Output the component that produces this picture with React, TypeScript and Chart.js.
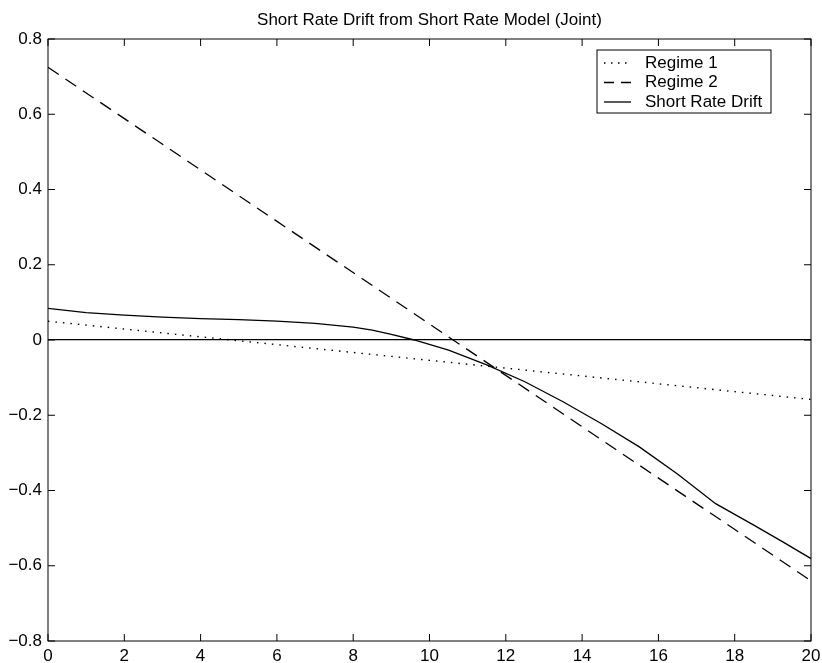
import React, { useEffect, useRef } from "react";
import { Chart, registerables } from "chart.js";

Chart.register(...registerables);

const TITLE = "Short Rate Drift from Short Rate Model (Joint)";
const SERIES_LABELS = ["Regime 1", "Regime 2", "Short Rate Drift"];

const regime1X = [0, 20];
const regime1Y = [0.05, -0.158];

const regime2X = [0, 20];
const regime2Y = [0.725, -0.64];

const driftX = [0, 1, 2, 3, 4, 5, 6, 7, 8, 8.5, 9, 9.6, 10.5, 11.5, 12.5, 13.5, 14.5, 15.5, 16.5, 17.5, 18.5, 19.25, 20];
const driftY = [0.084, 0.073, 0.066, 0.061, 0.057, 0.054, 0.05, 0.044, 0.034, 0.026, 0.015, 0.0, -0.027, -0.066, -0.111, -0.164, -0.222, -0.284, -0.356, -0.435, -0.492, -0.536, -0.581];

const X_MIN = 0;
const X_MAX = 20;
const X_STEP = 2;
const Y_MIN = -0.8;
const Y_MAX = 0.8;
const Y_STEP = 0.2;

const FONT = "Liberation Sans, Arial, Helvetica, sans-serif";

const toPoints = (xs: number[], ys: number[]) => xs.map((x, i) => ({ x, y: ys[i] }));

const fmtY = (v: number) => {
  if (Math.abs(v) < 1e-9) return "0";
  return (v < 0 ? "\u2212" : "") + Math.abs(v).toFixed(1);
};

const framePlugin = {
  id: "matlabFrame",
  afterDatasetsDraw(chart: any) {
    const { ctx, chartArea: a, scales } = chart;
    const len = 7;
    ctx.save();
    ctx.strokeStyle = "#000";
    ctx.lineWidth = 1;
    ctx.strokeRect(a.left, a.top, a.right - a.left, a.bottom - a.top);
    ctx.beginPath();
    scales.x.ticks.forEach((t: any) => {
      const px = scales.x.getPixelForValue(t.value);
      ctx.moveTo(px, a.bottom);
      ctx.lineTo(px, a.bottom - len);
      ctx.moveTo(px, a.top);
      ctx.lineTo(px, a.top + len);
    });
    scales.y.ticks.forEach((t: any) => {
      const py = scales.y.getPixelForValue(t.value);
      ctx.moveTo(a.left, py);
      ctx.lineTo(a.left + len, py);
      ctx.moveTo(a.right, py);
      ctx.lineTo(a.right - len, py);
    });
    ctx.stroke();

    // title
    ctx.fillStyle = "#000";
    ctx.font = `17px ${FONT}`;
    ctx.textAlign = "center";
    ctx.textBaseline = "alphabetic";
    ctx.fillText(TITLE, (a.left + a.right) / 2, 25);

    // legend
    const bx = 597, by = 50, bw = 174, bh = 63;
    ctx.fillStyle = "#fff";
    ctx.fillRect(bx, by, bw, bh);
    ctx.strokeStyle = "#000";
    ctx.lineWidth = 1;
    ctx.setLineDash([]);
    ctx.strokeRect(bx, by, bw, bh);
    const rows = [63, 82.5, 102];
    chart.data.datasets.forEach((ds: any, i: number) => {
      const y = rows[i];
      ctx.beginPath();
      ctx.setLineDash(ds.legendDash || []);
      ctx.lineWidth = ds.borderWidth;
      ctx.strokeStyle = ds.borderColor;
      ctx.moveTo(604, y);
      ctx.lineTo(631, y);
      ctx.stroke();
      ctx.setLineDash([]);
      ctx.fillStyle = "#000";
      ctx.font = `17px ${FONT}`;
      ctx.textAlign = "left";
      ctx.textBaseline = "middle";
      ctx.fillText(ds.label, 645, y);
    });
    ctx.restore();
  },
};

export default function App() {
  const ref = useRef<HTMLCanvasElement | null>(null);

  useEffect(() => {
    if (!ref.current) return;
    const chart = new Chart(ref.current, {
      type: "line",
      data: {
        datasets: [
          {
            label: SERIES_LABELS[0],
            data: toPoints(regime1X, regime1Y),
            borderColor: "#000",
            borderWidth: 1.4,
            borderDash: [1.5, 6],
            legendDash: [1.5, 5.5],
            pointRadius: 0,
            tension: 0,
          } as any,
          {
            label: SERIES_LABELS[1],
            data: toPoints(regime2X, regime2Y),
            borderColor: "#000",
            borderWidth: 1.3,
            borderDash: [13, 8],
            legendDash: [10, 7],
            pointRadius: 0,
            tension: 0,
          } as any,
          {
            label: SERIES_LABELS[2],
            data: toPoints(driftX, driftY),
            borderColor: "#000",
            borderWidth: 1.3,
            legendDash: [],
            pointRadius: 0,
            tension: 0,
          } as any,
        ],
      },
      options: {
        responsive: false,
        animation: false,
        events: [],
        layout: { padding: { top: 39, right: 11, left: 0, bottom: 0 } },
        plugins: {
          legend: { display: false },
          title: { display: false },
          tooltip: { enabled: false },
        },
        scales: {
          x: {
            type: "linear",
            min: X_MIN,
            max: X_MAX,
            afterFit: (s: any) => {
              s.height = 22;
              s.paddingLeft = 0;
              s.paddingRight = 0;
            },
            ticks: {
              stepSize: X_STEP,
              color: "#000",
              padding: 5,
              maxRotation: 0,
              font: { family: FONT, size: 17 },
              callback: (v: any) => String(v),
            },
            grid: { drawOnChartArea: false, drawTicks: false },
            border: { display: false },
          },
          y: {
            type: "linear",
            min: Y_MIN,
            max: Y_MAX,
            afterFit: (s: any) => {
              s.width = 48;
              s.paddingTop = 0;
              s.paddingBottom = 0;
            },
            ticks: {
              stepSize: Y_STEP,
              color: "#000",
              padding: 6,
              font: { family: FONT, size: 17 },
              callback: (v: any) => fmtY(Number(v)),
            },
            grid: {
              drawTicks: false,
              lineWidth: 1.3,
              color: (c: any) => (c.tick && Math.abs(c.tick.value) < 1e-9 ? "#000" : "rgba(0,0,0,0)"),
            },
            border: { display: false },
          },
        },
      } as any,
      plugins: [framePlugin],
    });
    return () => chart.destroy();
  }, []);

  return (
    <div style={{ position: "absolute", left: 0, top: 0, width: 822, height: 663, background: "#fff" }}>
      <canvas ref={ref} width={822} height={663} style={{ display: "block", width: 822, height: 663 }} />
    </div>
  );
}
